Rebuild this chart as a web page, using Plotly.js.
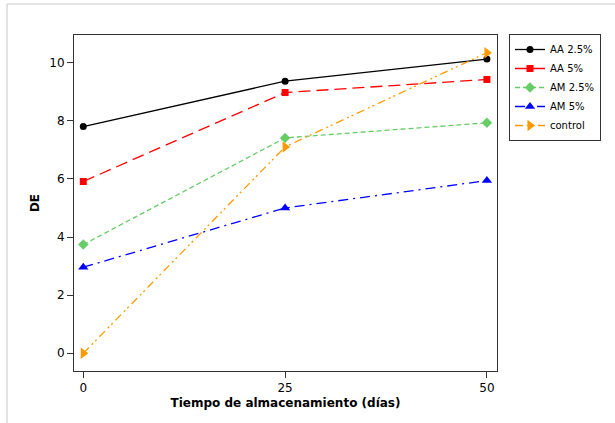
<!DOCTYPE html>
<html>
<head>
<meta charset="utf-8">
<script src="https://cdn.plot.ly/plotly-3.0.1.min.js"></script>
<style>
  html, body { margin: 0; padding: 0; background: #ffffff; }
  #chart { width: 615px; height: 423px; }
</style>
</head>
<body>
<div id="chart"></div>
<script>
// Days of storage
const days = [0, 25, 50];

// Series names
const seriesNames = ["AA 2.5%", "AA 5%", "AM 2.5%", "AM 5%", "control"];

// Series values (DE)
const aa25 = [7.80, 9.36, 10.12];
const aa5 = [5.91, 8.97, 9.42];
const am25 = [3.74, 7.41, 7.93];
const am5 = [2.96, 5.00, 5.94];
const control = [0.00, 7.10, 10.34];

// Tick labels
const xTicks = [0, 25, 50];
const yTicks = [0, 2, 4, 6, 8, 10];

const seriesValues = [aa25, aa5, am25, am5, control];
const colors = ["#000000", "#ff0000", "#66cc66", "#0000ff", "#ff9900"];
const dashes = ["solid", "12px,6px", "5px,3px", "10px,5px,2px,5px", "8px,4px,2px,3px,2px,4px"];
const symbols = ["circle", "square", "diamond", "triangle-up", "triangle-right"];
const sizes = [7, 7, 8, 9, 10];

const traces = seriesValues.map((vals, i) => ({
  type: "scatter",
  mode: "lines+markers",
  name: seriesNames[i],
  x: days,
  y: vals,
  line: { color: colors[i], width: 1.3, dash: dashes[i] },
  marker: { color: colors[i], symbol: symbols[i], size: sizes[i] },
  cliponaxis: false
}));

const W = 615, H = 423;
const L = 74, R = 497, T = 35, B = 371;
const pw = R - L, ph = B - T;
const px = v => (v - L) / pw;
const py = v => 1 - (v - T) / ph;

const font = "DejaVu Sans, Verdana, sans-serif";

const layout = {
  width: W,
  height: H,
  margin: { l: L, r: W - R, t: T, b: H - B, pad: 0 },
  paper_bgcolor: "#ffffff",
  plot_bgcolor: "#ffffff",
  showlegend: true,
  font: { family: font, size: 12, color: "#000000" },
  xaxis: {
    range: [-1.15, 51.25],
    tickmode: "array",
    tickvals: xTicks,
    ticktext: xTicks.map(String),
    ticks: "outside",
    ticklen: 6,
    tickwidth: 1,
    tickcolor: "#333333",
    showgrid: false,
    zeroline: false,
    showline: true,
    linecolor: "#333333",
    linewidth: 1,
    mirror: true,
    tickfont: { family: font, size: 12, color: "#000000" },
    title: { text: "Tiempo de almacenamiento (días)", font: { family: font, size: 12, color: "#000000", weight: "bold" }, standoff: 4 }
  },
  yaxis: {
    range: [-0.61, 10.95],
    tickmode: "array",
    tickvals: yTicks,
    ticktext: yTicks.map(String),
    ticks: "outside",
    ticklen: 6,
    tickwidth: 1,
    tickcolor: "#333333",
    showgrid: false,
    zeroline: false,
    showline: true,
    linecolor: "#333333",
    linewidth: 1,
    mirror: true,
    tickfont: { family: font, size: 12, color: "#000000" },
    title: { text: "DE", font: { family: font, size: 12, color: "#000000", weight: "bold" }, standoff: 7 }
  },
  legend: {
    x: px(509),
    y: py(34),
    xanchor: "left",
    yanchor: "top",
    bgcolor: "#ffffff",
    bordercolor: "#333333",
    borderwidth: 1,
    font: { family: font, size: 10, color: "#000000" },
    tracegroupgap: 0,
    itemwidth: 30
  },
  shapes: [
    { type: "line", xref: "paper", yref: "paper", x0: px(7), x1: px(620), y0: py(4), y1: py(4), line: { color: "#c8c8c8", width: 1 } },
    { type: "line", xref: "paper", yref: "paper", x0: px(7), x1: px(7), y0: py(4), y1: py(430), line: { color: "#c8c8c8", width: 1 } }
  ]
};

Plotly.newPlot("chart", traces, layout, { displayModeBar: false, staticPlot: true });
</script>
</body>
</html>
